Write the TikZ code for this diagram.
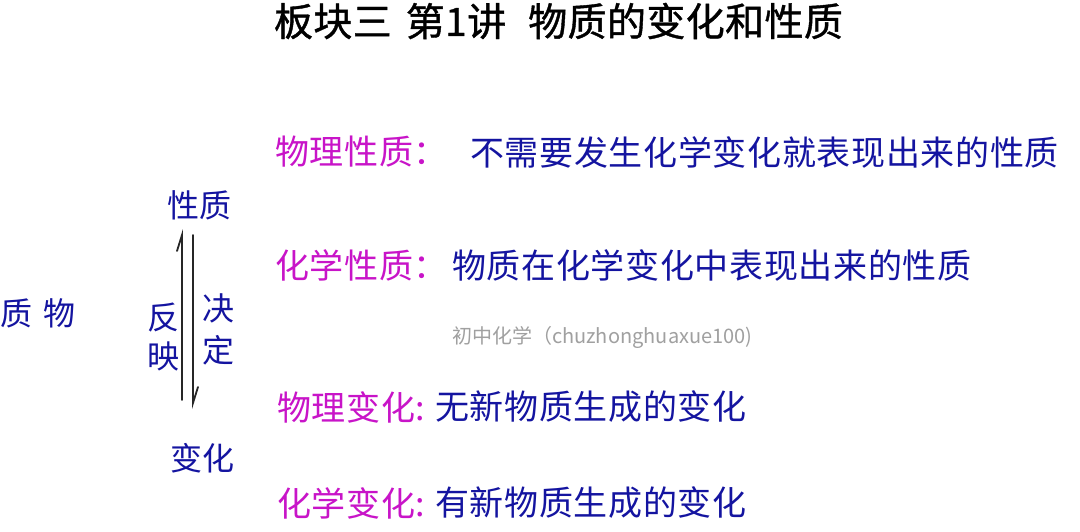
\documentclass[tikz,border=0pt]{standalone}
\usepackage{fontspec}
\setmainfont{Noto Sans CJK SC}
\newfontfamily\titlefont[FakeBold=1,LetterSpace=1]{Noto Sans CJK SC}
\newfontfamily\bodyfont[LetterSpace=2]{Noto Sans CJK SC}
\definecolor{mag}{RGB}{200,20,200}
\definecolor{dblue}{RGB}{20,20,160}
\definecolor{wgray}{RGB}{160,160,160}
\tikzset{
  txt/.style={inner sep=0pt, outer sep=0pt, anchor=west},
  headline/.style={txt, text=black, font=\titlefont\fontsize{39}{39}\selectfont},
  term/.style={txt, text=mag, font=\bodyfont\fontsize{34}{34}\selectfont},
  defn/.style={txt, text=dblue, font=\bodyfont\fontsize{34}{34}\selectfont},
  side/.style={inner sep=0pt, outer sep=0pt, text=dblue, font=\fontsize{32}{32}\selectfont},
  wmark/.style={txt, text=wgray, font=\fontsize{20}{20}\selectfont},
  arrowline/.style={draw=black!85, line width=1.8pt, line cap=round}
}
\begin{document}
\begin{tikzpicture}[x=1pt,y=-1pt]
\useasboundingbox[fill=white] (0,0) rectangle (1080,531);
% title
\node[headline] (title) at (274,21) {板块三\hspace{14pt}第1讲\hspace{22pt}物质的变化和性质};
% left
\node[side, anchor=west] (zhiwu) at (0,313) {质\hspace{12pt}物};
\node[side] (xingzhi) at (199,205) {性质};
\node[side] (bianhua) at (202,458) {变化};
\node[side] (fan) at (163,318) {反};
\node[side] (ying) at (163,356) {映};
\node[side] (jue) at (218,308) {决};
\node[side] (ding) at (218,350) {定};
% arrows
\coordinate (upbot) at (182,400);
\coordinate (uptop) at (182,235);
\coordinate (upbarb) at (177,251);
\coordinate (dntop) at (193,235);
\coordinate (dnbot) at (193,403);
\coordinate (dnbarb) at (198,387);
\draw[arrowline] (upbot) -- (uptop) -- (upbarb);
\draw[arrowline] (dntop) -- (dnbot) -- (dnbarb);
% right lines
\node[term] (t1) at (275,152) {物理性质：};
\node[defn] (d1) at (470,152) {不需要发生化学变化就表现出来的性质};
\node[term] (t2) at (275,265) {化学性质：};
\node[defn] (d2) at (452,265) {物质在化学变化中表现出来的性质};
\node[term] (t3) at (277,407) {物理变化:};
\node[defn] (d3) at (435,407) {无新物质生成的变化};
\node[term] (t4) at (277,503) {化学变化:};
\node[defn] (d4) at (435,503) {有新物质生成的变化};
% watermark
\node[wmark] (wm) at (452,337) {初中化学（chuzhonghuaxue100)};
\end{tikzpicture}
\end{document}
